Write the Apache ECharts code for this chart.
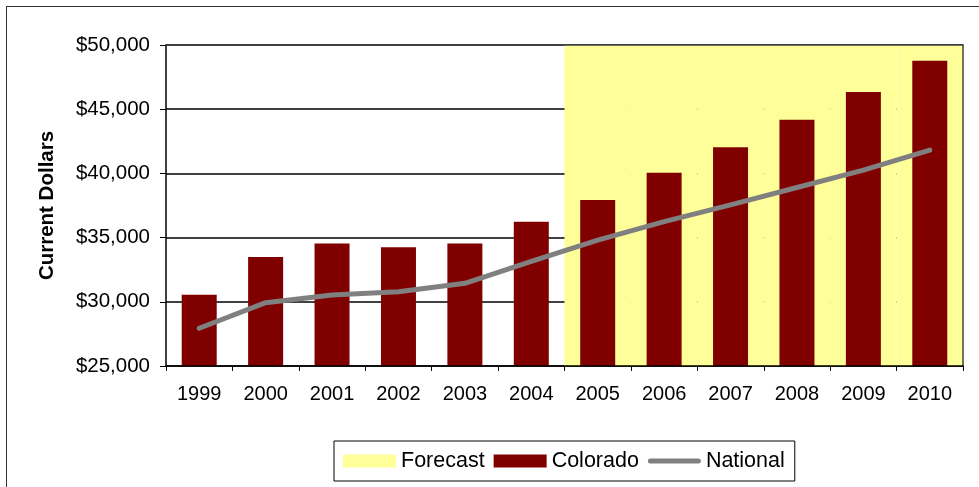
<!DOCTYPE html>
<html>
<head>
<meta charset="utf-8">
<script src="https://cdn.jsdelivr.net/npm/echarts@6/dist/echarts.min.js"></script>
<style>
  html, body { margin: 0; padding: 0; background: #fff; }
  #wrap { position: relative; width: 979px; height: 487px; overflow: hidden; }
  #chart { position: absolute; left: 0; top: 0; width: 979px; height: 487px; }
  #frame { position: absolute; left: 6px; top: 6px; width: 1000px; height: 1000px;
           border: 1.5px solid #333; pointer-events: none; }
</style>
</head>
<body>
<div id="wrap">
  <div id="chart"></div>
  <div id="frame"></div>
</div>
<script>
// ---- data ----
const years = ['1999','2000','2001','2002','2003','2004','2005','2006','2007','2008','2009','2010'];
const colorado = [30550, 33490, 34550, 34250, 34550, 36240, 37930, 40050, 42030, 44180, 46340, 48780];
const national = [27940, 29930, 30530, 30790, 31440, 33150, 34800, 36250, 37550, 38900, 40250, 41820];
const forecastYears = ['2005','2006','2007','2008','2009','2010'];
const yMin = 25000, yMax = 50000, yStep = 5000;

const FONT = "'Liberation Sans', Arial, sans-serif";
const forecastBand = years.map(y => forecastYears.includes(y) ? yMax : '-');
const lineIcon = 'path://M0,0M53,13M2.5,4L50.5,4A2.5,2.5,0,0,1,50.5,9L2.5,9A2.5,2.5,0,0,1,2.5,4Z';

const chart = echarts.init(document.getElementById('chart'), null, { renderer: 'canvas' });
chart.setOption({
  animation: false,
  backgroundColor: 'transparent',
  textStyle: { fontFamily: FONT },
  grid: { left: 166, right: 16, top: 45, bottom: 121, containLabel: false },
  legend: {
    left: 334, top: 441,
    padding: [9, 10, 9, 9],
    borderColor: '#000', borderWidth: 1,
    itemWidth: 53, itemHeight: 13, itemGap: 9,
    textStyle: { fontFamily: FONT, fontSize: 21.5, color: '#000' },
    data: [
      { name: 'Forecast', icon: 'rect' },
      { name: 'Colorado', icon: 'rect' },
      { name: 'National', icon: lineIcon, itemStyle: { color: '#808080' } }
    ]
  },
  xAxis: [
    {
      type: 'category', data: years, position: 'bottom', z: 10,
      axisLine: { show: true, lineStyle: { color: '#000', width: 1.5 } },
      axisTick: { show: true, length: 5, lineStyle: { color: '#000' } },
      axisLabel: { fontSize: 20, color: '#000', margin: 18, fontFamily: FONT },
      splitLine: { show: false }
    },
    {
      type: 'category', data: years, position: 'top', z: 10,
      axisLine: { show: true, lineStyle: { color: '#404040', width: 1.5 } },
      axisTick: { show: false }, axisLabel: { show: false }, splitLine: { show: false }
    }
  ],
  yAxis: [
    {
      type: 'value', min: yMin, max: yMax, interval: yStep, position: 'left',
      name: 'Current Dollars', nameLocation: 'middle', nameGap: 108,
      nameTextStyle: { fontSize: 20.5, fontWeight: 'bold', color: '#000', fontFamily: FONT },
      axisLine: { show: true, lineStyle: { color: '#000', width: 1.5 } },
      axisTick: { show: true, length: 6, lineStyle: { color: '#000' } },
      axisLabel: { fontSize: 20.5, color: '#000', margin: 16, fontFamily: FONT,
                   formatter: v => '$' + v.toLocaleString('en-US') },
      splitLine: { show: true, lineStyle: { color: '#000', width: 1.5 } }
    },
    {
      type: 'value', min: yMin, max: yMax, interval: yStep, position: 'right', z: 10,
      axisLine: { show: true, lineStyle: { color: '#404040', width: 1.5 } },
      axisTick: { show: false }, axisLabel: { show: false }, splitLine: { show: false }
    }
  ],
  series: [
    {
      name: 'Forecast', type: 'bar', xAxisIndex: 1, yAxisIndex: 0,
      data: forecastBand, barWidth: '100%', barGap: '0%', barCategoryGap: '0%',
      itemStyle: { color: '#FFFF99' }, silent: true
    },
    {
      name: 'Colorado', type: 'bar', xAxisIndex: 0, yAxisIndex: 0,
      data: colorado, barWidth: 35,
      itemStyle: { color: '#800000' }
    },
    {
      name: 'National', type: 'line', xAxisIndex: 0, yAxisIndex: 0,
      data: national, symbol: 'none', showSymbol: false,
      lineStyle: { color: '#808080', width: 5, cap: 'round', join: 'round' },
      itemStyle: { color: '#808080' }
    }
  ]
});
</script>
</body>
</html>
